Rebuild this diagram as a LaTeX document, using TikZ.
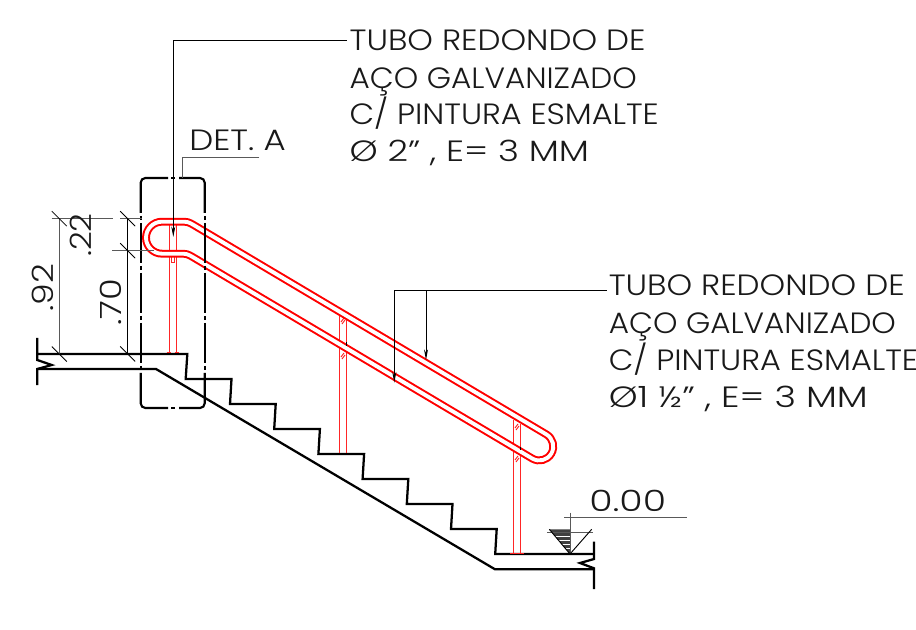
\documentclass[tikz,border=0pt]{standalone}
\usepackage{fontspec}
\setmainfont{Poppins}[UprightFont=* Light]
\usetikzlibrary{arrows.meta}
\newcommand{\sx}[2]{\scalebox{#1}[1]{#2}}
\tikzset{
  profile/.style={draw=black,line width=1.7pt,line join=miter},
  dim/.style={draw=black!65,line width=0.7pt},
  tick/.style={draw=black,line width=0.6pt},
  leader/.style={draw=black,line width=0.7pt},
  leadarrow/.style={leader,-{Stealth[length=8pt,width=3pt]}},
  redtube/.style={draw=red,line width=1.5pt,double=white,double distance=2.9pt},
  post/.style={draw=red!85,line width=0.7pt},
  note/.style={font=\fontsize{22}{22}\selectfont,inner sep=0pt,anchor=base west,text=black!90},
  dimtext/.style={font=\fontsize{22}{22}\selectfont,inner sep=0pt,rotate=90,text=black!90},
  detbox/.style={draw=black,line width=1.6pt,rounded corners=3.5pt},
  detdash/.style={draw=black,line width=1.6pt},
}
\begin{document}
\begin{tikzpicture}[x=0.75pt,y=-0.75pt]
\useasboundingbox (0,0) rectangle (916,630);
% staircase
\draw[profile] (37.3,338)--(37.3,354)--(187.3,354)--(185.7,379)--(231.5,379)--(230,404)--(275.7,404)--(274.2,429)--(319.9,429)--(318.4,454)--(364.1,454)--(362.6,479)--(408.3,479)--(406.8,504)--(452.5,504)--(451,529)--(496.7,529)--(495.2,554)--(594,554);
\draw[profile] (37.3,354)--(37.3,360)--(51.7,365)--(37.3,369)--(37.3,385);
\draw[profile] (37.3,369)--(156,369)--(495,569.3)--(594,569.3);
\draw[profile] (594,541.7)--(594,559)--(580,563)--(594,568.3)--(594,589);
% posts
\draw[post] (169,225)--(169,353) (176.7,225)--(176.7,353);
\draw[post,line width=1pt] (166.5,352.6)--(171,352.6) (174.7,352.6)--(179,352.6);
\draw[post] (339,315)--(339,453) (346.3,320)--(346.3,453);
\draw[post] (513.3,420)--(513.3,553) (520.3,424)--(520.3,553);
\draw[post] (510,553)--(524,553);
\draw[post] (171.2,256)--(171.2,262.5)--(174.2,262.5)--(174.2,256);
\draw[post] (341,322)--(344,318) (342,324)--(345,320) (341,357)--(344,353) (342,359)--(345,355);
\draw[post] (515,428)--(518,424) (516,430)--(519,426) (515,460)--(518,456) (516,462)--(519,458);
% handrail
\draw[redtube] (162,221.7)--(180,221.7) .. controls (188,221.7) .. (195,225.8)--(546.4,434.4)
  .. controls (553.05,438.35) and (555.24,446.95) .. (551.3,453.6)
  .. controls (547.36,460.25) and (538.85,462.45) .. (532.2,458.5)
  --(194,257.8) .. controls (187,253.7) .. (179,253.7)--(162,253.7)
  .. controls (153.2,253.7) and (146,246.5) .. (146,237.7)
  .. controls (146,228.9) and (153.2,221.7) .. (162,221.7)--cycle;
\draw[draw=black,line width=0.7pt] (346.3,342)--(346.3,346) (520.3,447)--(520.3,450);
% detail box
\draw[detbox] (168,178)--(140.7,178)--(140.7,213);
\draw[detbox] (179,178)--(204.7,178)--(204.7,213);
\draw[detbox] (168,408)--(140.7,408)--(140.7,373);
\draw[detbox] (179,408)--(204.7,408)--(204.7,373);
\draw[detdash] (171,178)--(175,178) (171,408)--(175,408);
\foreach \bx in {140.7,204.7}{
  \draw[detdash] (\bx,223)--(\bx,263) (\bx,273)--(\bx,313) (\bx,323)--(\bx,363);
  \foreach \by in {218,268,318,368} \draw[detdash] (\bx,\by-2)--(\bx,\by+2);
}
% dimensions
\draw[dim] (51.7,218.7)--(113,218.7) (120,218.7)--(141.7,218.7) (112.3,250.7)--(154.3,250.7);
\draw[dim] (59.3,218.7)--(59.3,354);
\draw[leader] (127.7,218.7)--(127.7,354);
\foreach \px/\py in {59.3/218.7,59.3/354,127.7/218.7,127.7/250.7,127.7/354}
  \draw[tick] (\px-7.5,\py-7.5)--(\px+7.5,\py+7.5);
\node[dimtext] (d92) at (43,287.5) {\sx{1.18}{.92}};
\node[dimtext] (d22) at (81,235) {\sx{1.12}{.22}};
\node[dimtext] (d70) at (111,302.5) {\sx{1.2}{.70}};
% notes
\node[note] (n1a) at (349.3,51) {\sx{1.11}{TUBO REDONDO DE}};
\node[note] (n1b) at (349.3,89) {\sx{1.06}{AÇO GALVANIZADO}};
\node[note] (n1c) at (349.3,125) {\sx{1.09}{C/ PINTURA ESMALTE}};
\node[note] (n1d) at (349.3,162) {\sx{1.22}{Ø 2" , E= 3 MM}};
\node[note] (n2a) at (608.5,296) {\sx{1.11}{TUBO REDONDO DE}};
\node[note] (n2b) at (608.5,334) {\sx{1.06}{AÇO GALVANIZADO}};
\node[note] (n2c) at (608.5,370) {\sx{1.09}{C/ PINTURA ESMALTE}};
\node[note] (n2d) at (608.5,407) {\sx{1.25}{Ø1 ½" , E= 3 MM}};
\node[note] (det) at (189,151) {\sx{1.16}{DET. A}};
\node[note] (lev) at (589,511.7) {\sx{1.29}{0.00}};
% leaders
\coordinate (t1) at (173.3,237);
\coordinate (k1) at (173.3,40.7);
\draw[leadarrow] (346.7,40.7) -- (k1) -- (t1);
\coordinate (t2) at (394.3,382.7);
\coordinate (t3) at (426,360);
\draw[leadarrow] (606.5,290.7) -- (394.3,290.7) -- (t2);
\draw[leadarrow] (426,290.7) -- (t3);
\coordinate (dk) at (182.7,157.3);
\draw[dim] (259.3,157.3) -- (dk) -- (182.7,178);
% level mark
\fill[black!75] (549.3,529.3)--(570,529.3)--(570,554)--cycle;
\foreach \yy in {536,540,544,548} \draw[white,line width=0.4pt] (552,\yy)--(570,\yy);
\draw[dim] (570,512.7)--(570,554);
\draw[dim] (564.3,517.7)--(687.3,517.7);
\draw[dim] (547.3,532.3)--(593.3,532.3);
\draw[leader] (549.3,529.3)--(570,554)--(591.7,529.3);
\end{tikzpicture}
\end{document}
